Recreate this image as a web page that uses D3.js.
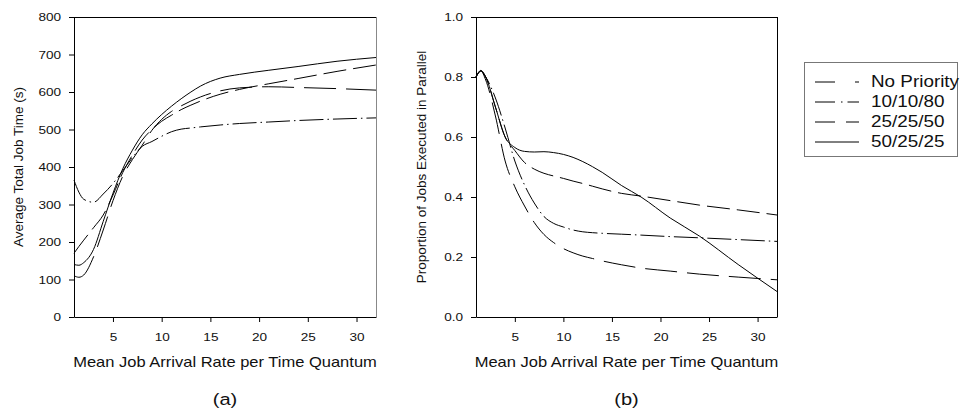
<!DOCTYPE html>
<html>
<head>
<meta charset="utf-8">
<script src="https://cdn.jsdelivr.net/npm/d3@7"></script>
<style>
  body { margin: 0; background: #fff; }
  svg { display: block; }
  text { font-family: "Liberation Sans", Arial, sans-serif; fill: #111; }
</style>
</head>
<body>
<svg id="chart" width="961" height="413"></svg>
<script>
// ---- data ----
const seriesNames = ['No Priority', '10/10/80', '25/25/50', '50/25/25'];
const arrivalRate = [1, 1.5, 2, 3, 4, 5, 6, 7, 8, 9, 10, 11, 12, 13, 14, 16, 18, 21, 24, 28, 32];

// (a) average total job time (s)
const timeNoPriority = [110, 106, 112, 160, 232, 310, 375, 420, 458, 498, 527, 548, 563, 576, 587, 603, 611, 614, 612, 609, 605];
const time101080     = [365, 333, 314, 306, 328, 356, 390, 425, 455, 468, 482, 494, 501, 504, 507, 512, 516, 520, 524, 528, 531];
const time252550     = [170, 188, 205, 238, 272, 325, 385, 432, 472, 500, 522, 538, 553, 565, 576, 594, 607, 622, 636, 655, 672];
const time502525     = [140, 138, 145, 180, 255, 330, 395, 445, 486, 515, 540, 562, 582, 600, 616, 637, 647, 658, 668, 682, 692];

// (b) proportion of jobs executed in parallel
const propNoPriority = [.80, .82, .79, .67, .52, .434, .37, .315, .275, .248, .228, .214, .203, .195, .187, .174, .163, .153, .143, .133, .124];
const prop101080     = [.80, .82, .80, .73, .63, .52, .44, .38, .335, .312, .30, .29, .284, .281, .279, .276, .273, .268, .264, .258, .252];
const prop252550     = [.80, .82, .80, .70, .60, .555, .515, .493, .479, .470, .462, .453, .445, .436, .427, .412, .403, .388, .373, .357, .34];
const prop502525     = [.80, .822, .80, .70, .60, .565, .552, .550, .551, .548, .542, .532, .518, .501, .482, .438, .40, .33, .27, .175, .085];

const xTicks = [5, 10, 15, 20, 25, 30];
const timeTicks = [0, 100, 200, 300, 400, 500, 600, 700, 800];
const propTicks = [0, 0.2, 0.4, 0.6, 0.8, 1.0];

// ---- styles ----
const lineDash = ['32,10', '24,4,1.5,4', '23,7', null];
const legendDash = ['20,20,4,20', '20,6,1.5,5,14', '20,11,14', null];
const SX = 1.18; // the figure's text is a bit wider than Arial

const svg = d3.select('#chart');

const stretch = (sel) => sel.each(function () {
    const t = d3.select(this);
    const x = +t.attr('x') || 0, y = +t.attr('y') || 0;
    t.attr('x', x / SX).attr('y', y).attr('transform', 'scale(' + SX + ',1)');
});

const drawPanel = (opts) => {
    const {left, right, top, bottom, yDomain, yTickVals, yFmt, series, yTitle, yTitleX, caption, rightColor} = opts;
    const g = svg.append('g');
    const x = d3.scaleLinear().domain([1, 32]).range([left, right]);
    const y = d3.scaleLinear().domain(yDomain).range([bottom, top]);

    // frame top/right
    g.append('line').attr('x1', left).attr('x2', right).attr('y1', top + 0.5).attr('y2', top + 0.5)
        .attr('stroke', '#000');
    g.append('line').attr('x1', right + 0.5).attr('x2', right + 0.5).attr('y1', top).attr('y2', bottom)
        .attr('stroke', rightColor);

    const xAxis = g.append('g').attr('transform', 'translate(0,' + bottom + ')')
        .call(d3.axisBottom(x).tickValues(xTicks).tickSize(5).tickPadding(11).tickSizeOuter(0));
    const yAxis = g.append('g').attr('transform', 'translate(' + left + ',0)')
        .call(d3.axisLeft(y).tickValues(yTickVals).tickFormat(yFmt).tickSize(5).tickPadding(8).tickSizeOuter(0));
    [xAxis, yAxis].forEach((a) => {
        a.selectAll('path, line').attr('stroke', '#000');
        a.selectAll('text').attr('font-size', 11.5).attr('fill', '#111')
            .style('font-family', '"Liberation Sans", Arial, sans-serif');
        a.selectAll('text').call(stretch);
    });

    const line = d3.line().x((d) => x(d[0])).y((d) => y(d[1])).curve(d3.curveMonotoneX);
    series.forEach((vals, i) => {
        g.append('path')
            .datum(arrivalRate.map((r, j) => [r, vals[j]]))
            .attr('d', line)
            .attr('fill', 'none')
            .attr('stroke', '#000')
            .attr('stroke-width', 1)
            .attr('stroke-dasharray', lineDash[i]);
    });

    const cx = (left + right) / 2;
    g.append('g').attr('transform', 'translate(' + cx + ',367)')
        .append('text').attr('text-anchor', 'middle').attr('font-size', 14)
        .attr('transform', 'scale(' + SX + ',1)')
        .text('Mean Job Arrival Rate per Time Quantum');
    g.append('text')
        .attr('transform', 'translate(' + yTitleX + ',' + ((top + bottom) / 2) + ') rotate(-90)')
        .attr('text-anchor', 'middle').attr('font-size', 13.5)
        .text(yTitle);
    g.append('g').attr('transform', 'translate(' + cx + ',405)')
        .append('text').attr('text-anchor', 'middle').attr('font-size', 17)
        .attr('transform', 'scale(' + SX + ',1)')
        .text(caption);
};

drawPanel({
    left: 74, right: 376, top: 17, bottom: 317,
    yDomain: [0, 800], yTickVals: timeTicks, yFmt: d3.format('d'),
    series: [timeNoPriority, time101080, time252550, time502525],
    yTitle: 'Average Total Job Time (s)', yTitleX: 23, caption: '(a)', rightColor: '#888'
});
drawPanel({
    left: 476, right: 777, top: 17, bottom: 317,
    yDomain: [0, 1], yTickVals: propTicks, yFmt: d3.format('.1f'),
    series: [propNoPriority, prop101080, prop252550, prop502525],
    yTitle: 'Proportion of Jobs Executed in Parallel', yTitleX: 426, caption: '(b)', rightColor: '#000'
});

// legend
const legend = svg.append('g');
legend.append('rect').attr('x', 804.5).attr('y', 62.5).attr('width', 153).attr('height', 94)
    .attr('fill', '#fff').attr('stroke', '#777');
seriesNames.forEach((name, i) => {
    const yy = 82 + i * 20;
    legend.append('line').attr('x1', 815).attr('x2', 859).attr('y1', yy).attr('y2', yy)
        .attr('stroke', '#000').attr('stroke-dasharray', legendDash[i]);
    legend.append('g').attr('transform', 'translate(871,' + (yy + 5) + ')')
        .append('text').attr('font-size', 16).attr('transform', 'scale(' + SX + ',1)').text(name);
});
</script>
</body>
</html>
